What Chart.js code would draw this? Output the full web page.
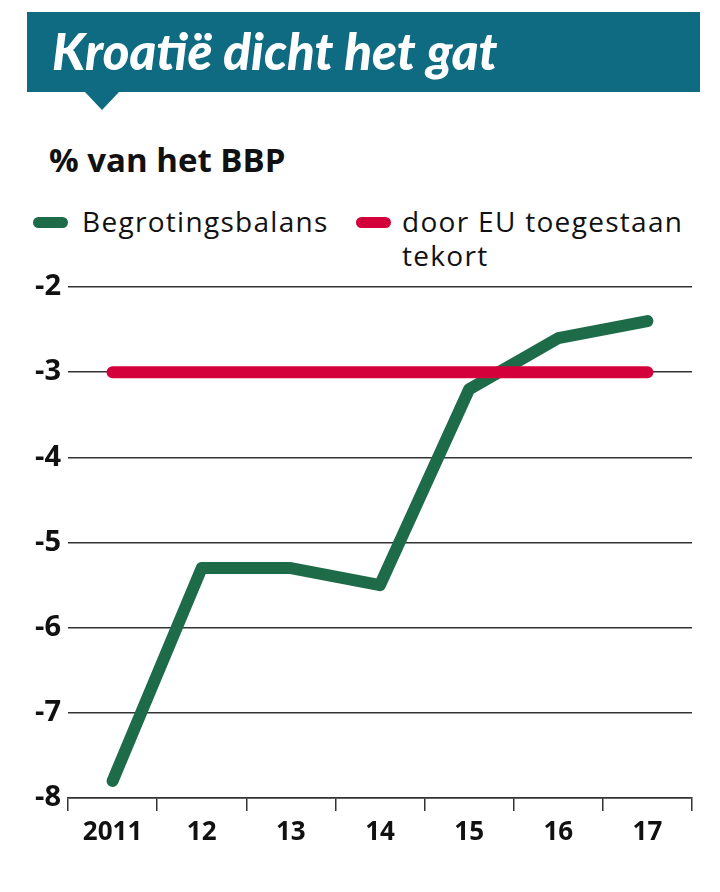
<!DOCTYPE html>
<html><head><meta charset="utf-8">
<script src="https://cdn.jsdelivr.net/npm/chart.js@4/dist/chart.umd.min.js"></script>
<style>
html,body{margin:0;padding:0;background:#fff;width:720px;height:892px;overflow:hidden;font-family:"Open Sans",sans-serif;}
#banner{position:absolute;left:27px;top:12px;width:673px;height:80px;background:#0f6b82;}
#tri{position:absolute;left:84px;top:91px;width:0;height:0;border-left:18px solid transparent;border-right:18px solid transparent;border-top:19px solid #0f6b82;}
#title{position:absolute;left:52px;top:16px;color:#fff;font-family:Lato,sans-serif;font-weight:900;font-style:italic;font-size:51px;line-height:70px;white-space:nowrap;}
#sub{position:absolute;left:49px;top:139px;font-family:"Open Sans",sans-serif;font-weight:700;font-size:33px;line-height:42px;color:#111;white-space:nowrap;}
.leg{position:absolute;font-family:"Open Sans",sans-serif;font-size:28px;letter-spacing:1.3px;line-height:34px;color:#111;}
.sw{position:absolute;width:35px;height:11px;border-radius:6px;}
#wrap{position:absolute;left:0;top:260px;width:720px;height:632px;}
</style></head><body>
<div id="banner"></div><div id="tri"></div>
<div id="title"></div>
<div id="sub"></div>
<div class="sw" id="sw0" style="left:33px;top:217px;"></div>
<div class="leg" id="lg0" style="left:82px;top:204px;"></div>
<div class="sw" id="sw1" style="left:356px;top:217px;"></div>
<div class="leg" id="lg1" style="left:402px;top:204px;width:310px;"></div>
<div id="wrap"><canvas id="c"></canvas></div>
<script>
const titleText = "Kroatië dicht het gat";
const subtitleText = "% van het BBP";
const categories = ["2011","12","13","14","15","16","17"];
const seriesNames = ["Begrotingsbalans","door EU toegestaan tekort"];
const balans = [-7.8,-5.3,-5.3,-5.5,-3.2,-2.6,-2.4];
const euNorm = [-3,-3,-3,-3,-3,-3,-3];
const yTicks = [-8,-7,-6,-5,-4,-3,-2];
const colors = ["#1d6b48","#d4003b"];

document.getElementById('title').textContent = titleText;
document.getElementById('sub').textContent = subtitleText;
document.getElementById('lg0').textContent = seriesNames[0];
document.getElementById('lg1').textContent = seriesNames[1];
document.getElementById('sw0').style.background = colors[0];
document.getElementById('sw1').style.background = colors[1];

new Chart(document.getElementById('c'), {
  type:'line',
  data:{labels:categories, datasets:[
    {label:seriesNames[1], data:euNorm, borderColor:colors[1], borderWidth:12, borderCapStyle:'round', pointRadius:0, tension:0},
    {label:seriesNames[0], data:balans, borderColor:colors[0], borderWidth:12, borderCapStyle:'round', borderJoinStyle:'round', pointRadius:0, tension:0}
  ]},
  options:{
    responsive:true, maintainAspectRatio:false, animation:false,
    layout:{padding:{top:27,right:28,bottom:34,left:0}},
    plugins:{legend:{display:false}, tooltip:{enabled:false}},
    scales:{
      x:{offset:true,
         grid:{offset:true, drawOnChartArea:false, drawTicks:true, tickLength:13, color:'#333', lineWidth:1.5},
         border:{display:true, color:'#333', width:1.5},
         ticks:{color:'#111', font:{family:"'Open Sans', sans-serif", size:26, weight:'700'}, padding:6, maxRotation:0},
         afterFit:s=>{s.height=60;}},
      y:{min:-8, max:-2,
         afterBuildTicks:s=>{s.ticks=yTicks.map(v=>({value:v}));},
         grid:{drawTicks:false, color:'#333', lineWidth:1.5},
         border:{display:false},
         ticks:{color:'#111', font:{family:"'Open Sans', sans-serif", size:29, weight:'700'}, padding:7, callback:v=>String(v)},
         afterFit:s=>{s.width=68;}}
    }
  }
});
</script>
</body></html>
